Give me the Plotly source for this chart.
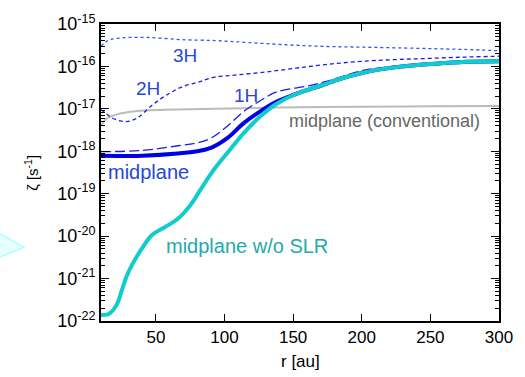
import plotly.graph_objects as go

# ---- data ----
r_3h = [10, 13, 16.4, 22, 28.6, 45, 69, 93, 109, 145, 175, 200, 224, 250, 275, 300]
z_3h = [3.0e-16, 3.7e-16, 4.27e-16, 4.57e-16, 4.8e-16, 4.8e-16, 4.27e-16, 4.07e-16,
        3.8e-16, 3.24e-16, 2.95e-16, 2.85e-16, 2.75e-16, 2.63e-16, 2.51e-16, 2.34e-16]

r_2h = [10, 14, 18.6, 24, 28.6, 33, 38, 47, 57, 69, 81, 93, 109, 130, 152, 175, 200, 225, 250, 275, 300]
z_2h = [9.5e-18, 7.6e-18, 6.0e-18, 5.2e-18, 5.0e-18, 5.4e-18, 6.6e-18, 1.2e-17, 2.04e-17,
        3.3e-17, 4.27e-17, 5.6e-17, 6.3e-17, 7.4e-17, 9.1e-17, 1.12e-16, 1.32e-16, 1.45e-16,
        1.55e-16, 1.66e-16, 1.74e-16]

r_1h = [10, 40, 66, 80, 90, 102, 114, 126, 138, 161, 180, 200, 224, 250, 275, 300]
z_1h = [9.8e-19, 1.05e-18, 1.35e-18, 1.58e-18, 2.04e-18, 3.9e-18, 8.7e-18, 1.55e-17,
        2.51e-17, 3.47e-17, 5.0e-17, 7.9e-17, 1.02e-16, 1.2e-16, 1.32e-16, 1.38e-16]

r_mid = [10, 40, 66, 80, 90, 102, 114, 126, 138, 152, 171, 185, 200, 212, 224, 247, 271, 300]
z_mid = [7.8e-19, 7.9e-19, 8.9e-19, 1.0e-18, 1.2e-18, 2.04e-18, 4.6e-18, 8.7e-18, 1.48e-17,
         2.24e-17, 3.6e-17, 5.2e-17, 7.0e-17, 8.4e-17, 9.5e-17, 1.12e-16, 1.26e-16, 1.32e-16]

r_noslr = [10, 14, 16.4, 21.4, 25.7, 28.6, 32.9, 40, 47, 57, 66, 71, 77, 81, 86, 93, 102, 114,
           126, 138, 152, 171, 185, 200, 212, 224, 247, 271, 300]
z_noslr = [1.38e-22, 1.41e-22, 1.51e-22, 2.4e-22, 6.0e-22, 1.12e-21, 2.19e-21, 5.2e-21,
           1.05e-20, 1.66e-20, 2.57e-20, 3.7e-20, 6.5e-20, 1.05e-19, 1.86e-19, 3.98e-19, 9.1e-19,
           2.69e-18, 6.6e-18, 1.32e-17, 2.24e-17, 3.6e-17, 5.2e-17, 7.0e-17, 8.4e-17, 9.5e-17,
           1.12e-16, 1.26e-16, 1.32e-16]

r_conv = [10, 14, 18, 24, 33, 45, 57, 93, 138, 200, 250, 300]
z_conv = [3.9e-18, 5.9e-18, 6.8e-18, 7.8e-18, 8.7e-18, 9.3e-18, 9.5e-18, 1.0e-17,
          1.07e-17, 1.12e-17, 1.15e-17, 1.17e-17]

x_ticks = [50, 100, 150, 200, 250, 300]
y_exps = [-22, -21, -20, -19, -18, -17, -16, -15]

FONT = "Liberation Sans"
BLUE_TXT = "#2448d8"

fig = go.Figure()
fig.add_trace(go.Scatter(x=r_conv, y=z_conv, mode="lines", line=dict(color="#bbbbbb", width=2, shape="spline")))
fig.add_trace(go.Scatter(x=r_3h, y=z_3h, mode="lines", line=dict(color="#3050ff", width=1.3, dash="dot", shape="spline")))
fig.add_trace(go.Scatter(x=r_2h, y=z_2h, mode="lines", line=dict(color="#1a1aee", width=1.3, dash="4px,3px", shape="spline")))
fig.add_trace(go.Scatter(x=r_1h, y=z_1h, mode="lines", line=dict(color="#1a1aee", width=1.3, dash="10px,4px", shape="spline")))
fig.add_trace(go.Scatter(x=r_mid, y=z_mid, mode="lines", line=dict(color="#0000e6", width=4, shape="spline")))
fig.add_trace(go.Scatter(x=r_noslr, y=z_noslr, mode="lines", line=dict(color="#11cccc", width=4, shape="spline")))

def lab(x, ylog, text, color, size):
    fig.add_annotation(x=x, y=ylog, text=text, showarrow=False,
                       font=dict(family=FONT, size=size, color=color),
                       xanchor="center", yanchor="middle")

lab(71.4, -15.74, "3H", BLUE_TXT, 19)
lab(44.3, -16.51, "2H", BLUE_TXT, 19)
lab(115.7, -16.68, "1H", BLUE_TXT, 19)
lab(216.4, -17.29, "midplane (conventional)", "#666666", 18)
lab(44.3, -18.48, "midplane", BLUE_TXT, 20)
lab(116.4, -20.24, "midplane w/o SLR", "#22aaaa", 20)

# axis titles
fig.add_annotation(xref="paper", yref="paper", x=0.501, y=-0.136, text="r [au]", showarrow=False,
                   font=dict(family=FONT, size=17, color="black"), xanchor="center", yanchor="middle")
fig.add_annotation(xref="paper", yref="paper", x=-0.175, y=0.50, text="ζ [s<sup>-1</sup>]", showarrow=False,
                   textangle=-90, font=dict(family=FONT, size=15, color="black"),
                   xanchor="center", yanchor="middle")

# stray decoration at left
fig.add_shape(type="path", xref="paper", yref="paper",
              path="M -0.3,0.33 L -0.194,0.248 L -0.3,0.19 Z",
              fillcolor="#e8ffff", line=dict(color="#aaffff", width=1.5), layer="below")

minor_vals = [m * 10.0 ** e for e in y_exps[:-1] for m in range(2, 10)]

fig.update_xaxes(range=[10, 300], tickvals=x_ticks, ticktext=[str(v) for v in x_ticks],
                 ticks="inside", ticklen=7, tickwidth=1.2, tickcolor="black",
                 showline=True, linecolor="black", linewidth=1.8, mirror="ticks",
                 showgrid=False, zeroline=False,
                 tickfont=dict(family=FONT, size=17, color="black"))
fig.update_yaxes(type="log", range=[-22, -15], tickvals=[10.0 ** e for e in y_exps],
                 ticktext=["10<sup>%d</sup>" % e for e in y_exps],
                 ticks="inside", ticklen=8, tickwidth=1.2, tickcolor="black",
                 minor=dict(tickmode="array", tickvals=minor_vals, ticks="inside", ticklen=4,
                            tickcolor="black", tickwidth=1, showgrid=False),
                 showline=True, linecolor="black", linewidth=1.8, mirror="ticks",
                 showgrid=False, zeroline=False,
                 tickfont=dict(family=FONT, size=18, color="black"))

fig.update_layout(width=525, height=377, margin=dict(l=101, r=17, t=19, b=56),
                  plot_bgcolor="white", paper_bgcolor="white", showlegend=False)

fig.write_html("out.html")
